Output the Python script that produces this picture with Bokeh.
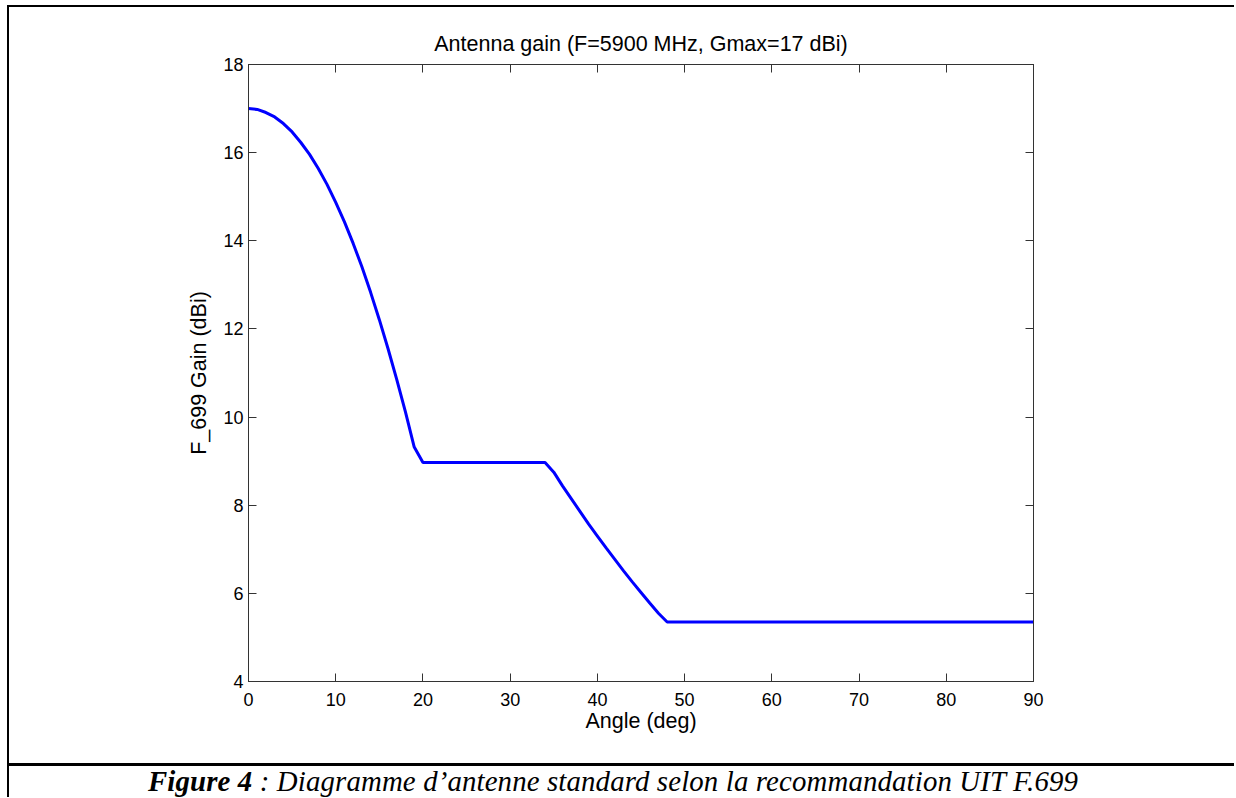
from bokeh.plotting import figure
from bokeh.models import LinearAxis, FixedTicker, CustomJSTickFormatter, Div, Spacer
from bokeh.layouts import column, row
from bokeh.embed import file_html
from bokeh.resources import INLINE

# ---- data ----
angle_deg = [0, 1, 2, 3, 4, 5, 6, 7, 8, 9, 10, 11, 12, 13, 14, 15, 16, 17, 18, 19, 20,
             34, 35, 36, 37, 38, 39, 40, 41, 42, 43, 44, 45, 46, 47, 48, 90]
gain_dbi = [17.0, 16.98, 16.91, 16.81, 16.66, 16.47, 16.23, 15.96, 15.64, 15.28, 14.87,
            14.43, 13.94, 13.41, 12.83, 12.21, 11.55, 10.85, 10.11, 9.32, 8.97,
            8.97, 8.75, 8.44, 8.15, 7.86, 7.57, 7.30, 7.03, 6.77, 6.51, 6.26, 6.02,
            5.78, 5.55, 5.35, 5.35]
x_ticks = [0, 10, 20, 30, 40, 50, 60, 70, 80, 90]
y_ticks = [4, 6, 8, 10, 12, 14, 16, 18]
title_text = "Antenna gain (F=5900 MHz, Gmax=17 dBi)"
x_label = "Angle (deg)"
y_label = "F_699 Gain (dBi)"
caption_bold = "Figure 4"
caption_rest = " : Diagramme d\u2019antenne standard selon la recommandation UIT F.699"

# ---- layout sizes (pixels) ----
FIG_W, FIG_H = 1225, 756
CAP_H = 31
AX = "#333333"
SANS = "Liberation Sans"
SERIF = "Liberation Serif"

p = figure(width=FIG_W, height=FIG_H, x_range=(0, 90), y_range=(4, 18),
           output_backend="svg", toolbar_location=None,
           min_border_left=239, min_border_right=201,
           min_border_top=57, min_border_bottom=82,
           title=title_text, x_axis_label=x_label, y_axis_label=y_label)
p.grid.visible = False
p.background_fill_color = "white"
p.border_fill_color = "white"
p.outline_line_color = AX
p.outline_line_width = 1

p.title.align = "center"
p.title.text_font = SANS
p.title.text_font_size = "21.5px"
p.title.text_font_style = "normal"
p.title.text_color = "black"
p.title.standoff = 17

p.xaxis.ticker = FixedTicker(ticks=x_ticks)
p.yaxis.ticker = FixedTicker(ticks=y_ticks)


def style_axis(ax):
    ax.major_tick_in = 8
    ax.major_tick_out = 0
    ax.minor_tick_in = 0
    ax.minor_tick_out = 0
    ax.axis_line_color = AX
    ax.major_tick_line_color = AX
    ax.major_label_text_font = SANS
    ax.major_label_text_font_size = "18px"
    ax.major_label_text_color = "black"
    ax.axis_label_text_font = SANS
    ax.axis_label_text_font_size = "21.5px"
    ax.axis_label_text_font_style = "normal"
    ax.axis_label_text_color = "black"


style_axis(p.xaxis[0])
style_axis(p.yaxis[0])
p.xaxis[0].major_label_standoff = 11
p.xaxis[0].axis_label_standoff = 0
p.yaxis[0].major_label_standoff = 5
p.yaxis[0].axis_label_standoff = 9

blank = CustomJSTickFormatter(code="return ''")
top_ax = LinearAxis(ticker=FixedTicker(ticks=x_ticks), formatter=blank)
right_ax = LinearAxis(ticker=FixedTicker(ticks=y_ticks), formatter=blank)
for ax in (top_ax, right_ax):
    style_axis(ax)
    ax.major_label_standoff = 0
p.add_layout(top_ax, "above")
p.add_layout(right_ax, "right")

p.line(angle_deg, gain_dbi, line_color="#0000ff", line_width=3)

# ---- page frame: borders and caption ----
BLACK = {"background-color": "black"}
top_rule = Div(text="", width=FIG_W, height=2, margin=0, styles=BLACK)
cap_rule = Div(text="", width=FIG_W, height=3, margin=0, styles=BLACK)
caption = Div(
    text=(f'<div style="margin-left:139px;margin-top:-1px;font-family:\'{SERIF}\';'
          f'font-size:28.8px;letter-spacing:0.15px;line-height:normal;'
          f'white-space:nowrap;color:black;">'
          f'<b><i>{caption_bold}</i></b><i>{caption_rest}</i></div>'),
    width=FIG_W, height=CAP_H, margin=0, styles={"overflow": "hidden"})
inner = column(top_rule, p, cap_rule, caption, spacing=0)
left_rule = Div(text="", width=2, height=2 + FIG_H + 3 + CAP_H, margin=0, styles=BLACK)
root = column(Spacer(height=5), row(Spacer(width=7), left_rule, inner, spacing=0), spacing=0)

open("out.html", "w").write(file_html(root, INLINE))
